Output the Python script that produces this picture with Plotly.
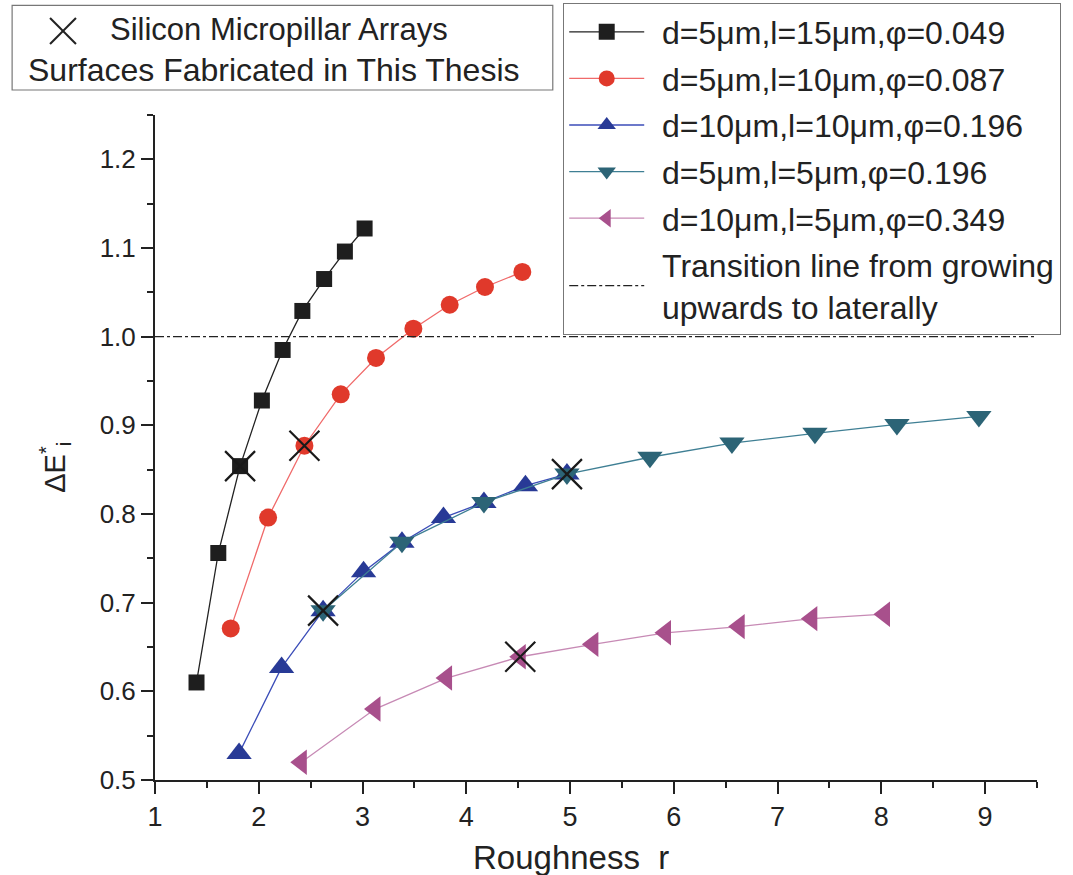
import plotly.graph_objects as go

# ---- data ----
sq_x = [1.40, 1.61, 1.82, 2.03, 2.23, 2.42, 2.63, 2.83, 3.02]
sq_y = [0.610, 0.756, 0.854, 0.928, 0.985, 1.029, 1.065, 1.096, 1.122]

ci_x = [1.73, 2.09, 2.44, 2.79, 3.13, 3.49, 3.84, 4.18, 4.54]
ci_y = [0.671, 0.796, 0.877, 0.935, 0.976, 1.009, 1.036, 1.056, 1.073]

up_x = [1.81, 2.22, 2.62, 3.01, 3.38, 3.78, 4.17, 4.57, 4.97]
up_y = [0.530, 0.627, 0.691, 0.735, 0.768, 0.796, 0.813, 0.832, 0.845]

dn_x = [2.62, 3.38, 4.17, 4.97, 5.77, 6.56, 7.36, 8.15, 8.94]
dn_y = [0.691, 0.768, 0.813, 0.845, 0.864, 0.880, 0.891, 0.901, 0.910]

lt_x = [2.41, 3.12, 3.81, 4.52, 5.22, 5.92, 6.63, 7.33, 8.03]
lt_y = [0.520, 0.580, 0.615, 0.639, 0.653, 0.666, 0.673, 0.682, 0.687]

fab_x = [1.82, 2.44, 2.62, 4.97, 4.52]
fab_y = [0.854, 0.877, 0.691, 0.845, 0.639]

trans_x = [1.0, 9.5]
trans_y = [1.0, 1.0]

names = [
    "d=5μm,l=15μm,φ=0.049",
    "d=5μm,l=10μm,φ=0.087",
    "d=10μm,l=10μm,φ=0.196",
    "d=5μm,l=5μm,φ=0.196",
    "d=10μm,l=5μm,φ=0.349",
]
trans_name = "Transition line from growing<br>upwards to laterally"
box_line1 = "Silicon Micropillar Arrays"
box_line2 = "Surfaces Fabricated in This Thesis"
x_title = "Roughness  r"
y_title = "ΔE<sup>*</sup><sub>i</sub>"

FONT = "Arial, Liberation Sans, sans-serif"
PAD = "\u2009\u2009"

fig = go.Figure()

series = [
    (sq_x, sq_y, "square", "#1e1e1e", "#222222", 16),
    (ci_x, ci_y, "circle", "#e0392b", "#f06a6a", 18),
    (up_x, up_y, "triangle-up", "#283a96", "#3b4db8", 22),
    (dn_x, dn_y, "triangle-down", "#2c6476", "#3f7f94", 22),
    (lt_x, lt_y, "triangle-left", "#a8508c", "#c78ab5", 22),
]
for i, ((xs, ys, sym, mc, lc, sz), nm) in enumerate(zip(series, names)):
    fig.add_trace(go.Scatter(
        x=xs, y=ys, mode="lines+markers", name=PAD + nm,
        legendgroup=f"g{i}",
        line=dict(color=lc, width=1.3),
        marker=dict(symbol=sym, color=mc, size=sz, line=dict(width=0)),
        cliponaxis=False,
    ))

fig.add_trace(go.Scatter(
    x=trans_x, y=trans_y, mode="lines", name=PAD + trans_name.replace("<br>", "<br>" + PAD),
    legendgroup="g5",
    line=dict(color="#222222", width=1.3, dash="dashdot"),
))

fig.add_trace(go.Scatter(
    x=fab_x, y=fab_y, mode="markers", showlegend=False,
    marker=dict(symbol="x-thin", size=30, color="#1a1a1a",
                line=dict(width=2.2, color="#1a1a1a")),
    cliponaxis=False,
))

# top-left explanatory box
fig.add_shape(type="rect", xref="paper", yref="paper",
              x0=-0.162, x1=0.451, y0=1.0376, y1=1.165,
              line=dict(color="#777777", width=1.2), fillcolor="white")
fig.add_shape(type="line", xref="paper", yref="paper",
              x0=-0.119, x1=-0.0896, y0=1.1459, y1=1.1068,
              line=dict(color="#222222", width=2))
fig.add_shape(type="line", xref="paper", yref="paper",
              x0=-0.119, x1=-0.0896, y0=1.1068, y1=1.1459,
              line=dict(color="#222222", width=2))
fig.add_annotation(xref="paper", yref="paper", x=-0.0533, y=1.128,
                   xanchor="left", yanchor="middle", showarrow=False,
                   text=box_line1, font=dict(size=31, color="#222222", family=FONT))
fig.add_annotation(xref="paper", yref="paper", x=-0.146, y=1.0677,
                   xanchor="left", yanchor="middle", showarrow=False,
                   text=box_line2, font=dict(size=32, color="#222222", family=FONT))

# axis titles
fig.add_annotation(xref="paper", yref="paper", x=0.4717, y=-0.116,
                   xanchor="center", yanchor="middle", showarrow=False,
                   text=x_title, font=dict(size=33, color="#222222", family=FONT))
fig.add_annotation(xref="paper", yref="paper", x=-0.113, y=0.47,
                   xanchor="center", yanchor="middle", showarrow=False, textangle=-90,
                   text=y_title, font=dict(size=29, color="#222222", family=FONT))

fig.update_layout(
    width=1073, height=875,
    margin=dict(l=155, r=36, t=115, b=95, autoexpand=False),
    paper_bgcolor="white", plot_bgcolor="white",
    font=dict(family=FONT, color="#222222"),
    showlegend=True,
    legend=dict(
        x=0.4626, y=1.168, xanchor="left", yanchor="top",
        bgcolor="white", bordercolor="#777777", borderwidth=1.2,
        font=dict(size=32, family=FONT, color="#222222"),
        itemwidth=75, tracegroupgap=2,
    ),
    xaxis=dict(
        range=[1, 9.5], showgrid=False, zeroline=False, automargin=False,
        showline=True, linecolor="#222222", linewidth=2,
        ticks="outside", ticklen=12, tickwidth=2, tickcolor="#222222",
        tickmode="linear", tick0=1, dtick=1,
        minor=dict(ticks="outside", ticklen=6, tickwidth=2, dtick=0.5, tickcolor="#222222"),
        tickfont=dict(size=27, family=FONT),
    ),
    yaxis=dict(
        range=[0.5, 1.25], showgrid=False, zeroline=False, automargin=False,
        showline=True, linecolor="#222222", linewidth=2,
        ticks="outside", ticklen=12, tickwidth=2, tickcolor="#222222",
        tickmode="linear", tick0=0.5, dtick=0.1, tickformat=".1f",
        minor=dict(ticks="outside", ticklen=6, tickwidth=2, dtick=0.05, tickcolor="#222222"),
        tickfont=dict(size=26, family=FONT),
    ),
)

fig.write_html("out.html")
